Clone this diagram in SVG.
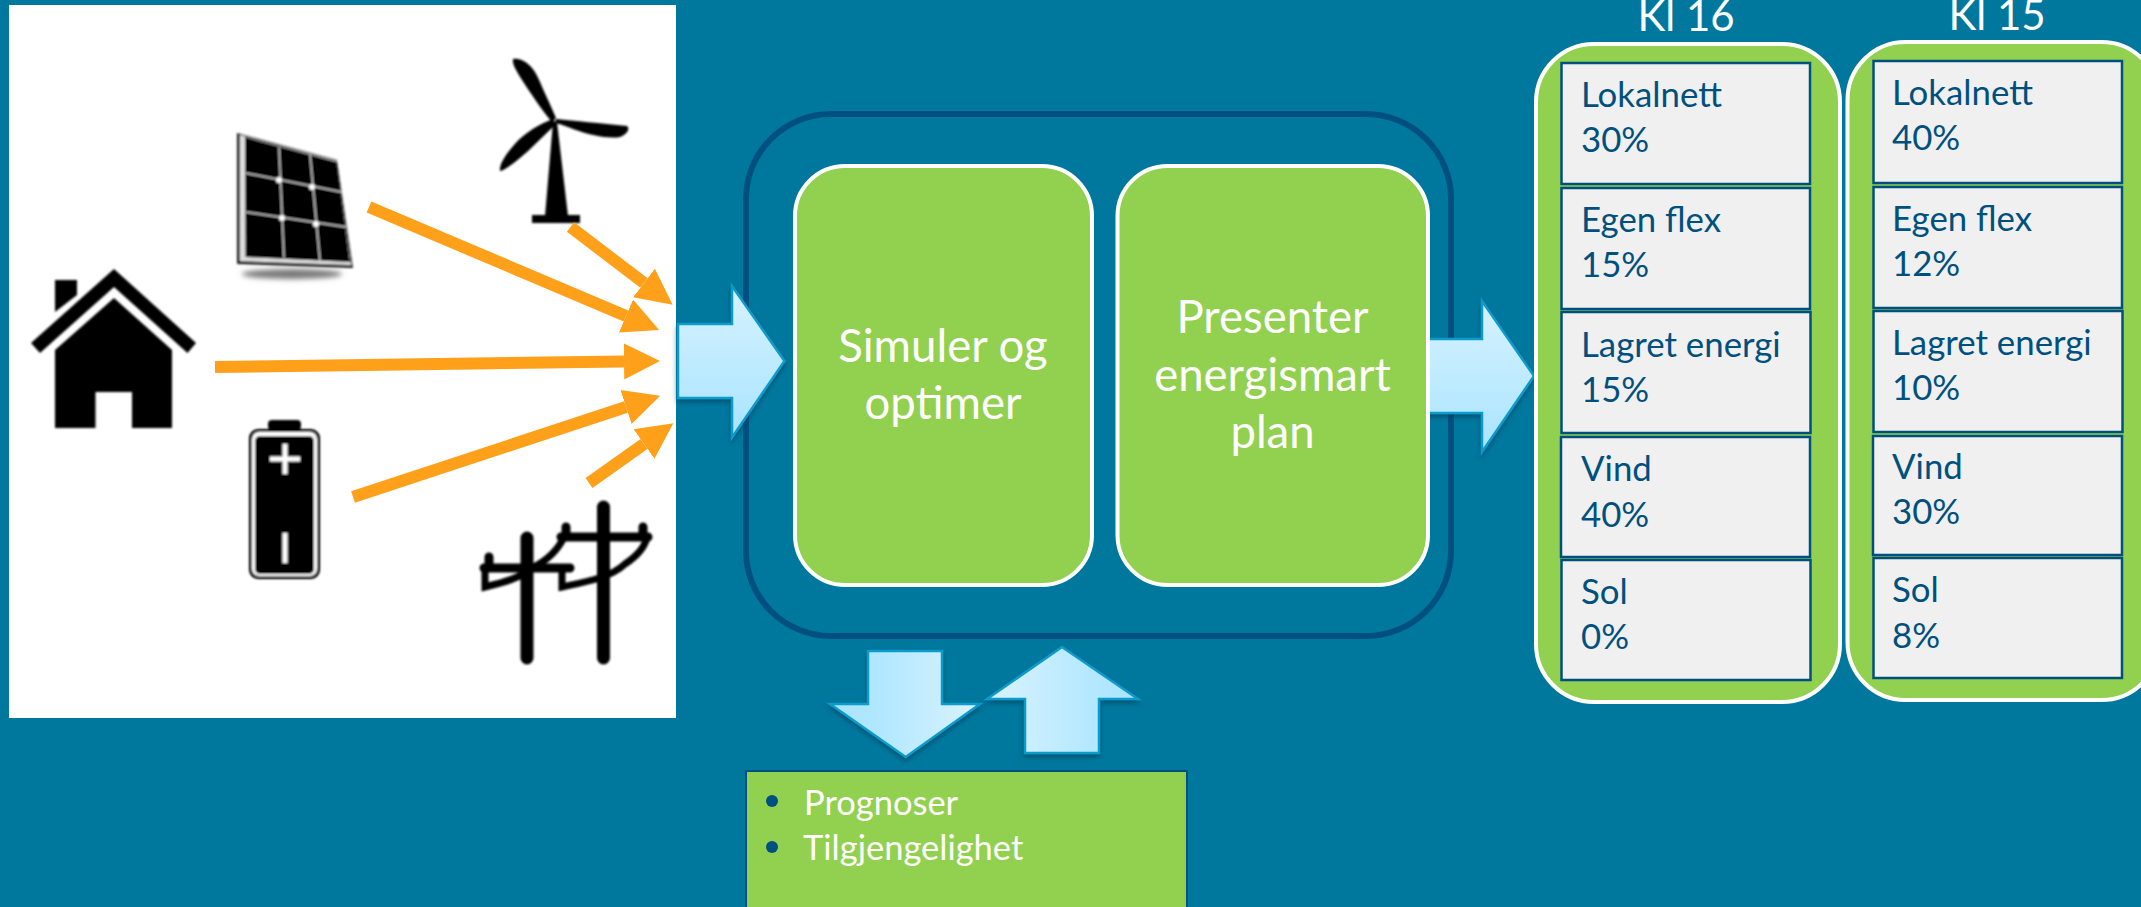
<svg xmlns="http://www.w3.org/2000/svg" width="2141" height="907" viewBox="0 0 2141 907">
<style>
text{font-family:Lato,"Liberation Sans",sans-serif}
.bx{fill:#92d050;stroke:#fff;stroke-width:4}
.wt{fill:#fff;text-anchor:middle;font-size:45.500px}
.kl{font-size:42px}
.card{fill:#f0f0f0;stroke:#00507f;stroke-width:2.500}
.ct{fill:#00507f;font-size:34.800px}
.li{fill:#fff;font-size:34.500px}
.or{stroke:#ffa01a;stroke-width:12;fill:none;marker-end:url(#oh)}
.ba{stroke:#0b9bcb;stroke-width:2.500;stroke-linejoin:miter;filter:url(#sh)}
.pl{stroke:#000;stroke-width:13;stroke-linecap:round;fill:none}
.pt{stroke:#000;stroke-width:9;stroke-linecap:round;fill:none}
.pc{stroke:#000;stroke-width:7;fill:none}
.sl{stroke:#ccc;stroke-width:1.500;fill:none}
</style>
<defs>
<marker id="oh" markerUnits="userSpaceOnUse" markerWidth="40" markerHeight="40" refX="0" refY="20" orient="auto" viewBox="0 0 40 40"><path d="M0,2 L36,20 L0,38 Z" fill="#ffa01a"/></marker>
<linearGradient id="gv" x1="0" y1="0" x2="0" y2="1"><stop offset="0" stop-color="#d6f2ff"/><stop offset="1" stop-color="#a9e4ff"/></linearGradient>
<linearGradient id="gd" x1="0" y1="0" x2="1" y2="0"><stop offset="0" stop-color="#a9e4ff"/><stop offset=".3" stop-color="#b0e7ff"/><stop offset="1" stop-color="#daf3ff"/></linearGradient>
<linearGradient id="gu" x1="0" y1="0" x2="1" y2="0"><stop offset="0" stop-color="#daf3ff"/><stop offset=".7" stop-color="#b4e8ff"/><stop offset="1" stop-color="#a9e4ff"/></linearGradient>
<filter id="sh" x="-10%" y="-10%" width="120%" height="125%"><feDropShadow dx="0" dy="3" stdDeviation="2.500" flood-color="#003c55" flood-opacity=".6"/></filter>
<filter id="bl" x="-5%" y="-5%" width="110%" height="110%"><feGaussianBlur stdDeviation=".8"/></filter>
<filter id="bs" x="-20%" y="-100%" width="140%" height="300%"><feGaussianBlur stdDeviation="2.500"/></filter>
</defs>
<rect width="2141" height="907" fill="#00789e"/>
<rect id="image-bg" x="9" y="5" width="667" height="713" fill="#fff"/>

<g id="house" filter="url(#bl)">
<path d="M55,280H77V295L55,312Z"/>
<path d="M114,269L196,343L187.500,353L114,287L40,353L31,343Z"/>
<path d="M114,298L172,350V428H132V392H95.500V428H55V350Z"/>
</g>

<g id="solar" filter="url(#bl)">
<ellipse cx="292" cy="274" rx="50" ry="5" fill="#777" filter="url(#bs)"/>
<path d="M237,133L337,160L353,268L237,264Z" fill="#222"/>
<path d="M240,135L337,161L351,265L240,261Z" fill="#ddd"/>
<path d="M245,137L337,162L350,262L245.500,257Z" fill="#050505"/>
<path d="M279,147L284,258M310,154L320,261M245.500,173L341.500,192M245.500,212L346,227" class="sl"/>
<g fill="#fff"><circle cx="279" cy="180" r="3"/><circle cx="312" cy="187" r="3"/><circle cx="282" cy="218" r="3"/><circle cx="316" cy="224" r="3"/></g>
</g>

<g id="turbine" filter="url(#bl)">
<path d="M513,59C520,58 532,62 540,82C546,96 552,108 556,118L552,122C540,108 530,92 522,80C516,70 512,64 513,59Z"/>
<path d="M556,119C575,121 600,123 627,126C630,128 628,134 620,137C608,139 590,135 576,130C568,127 560,124 555,123Z"/>
<path d="M553,119C540,124 525,132 514,145C505,155 499,165 500,171C506,170 515,162 527,152L556,124Z"/>
<path d="M553,122H557L568,216H545Z"/>
<rect x="532" y="215" width="48" height="8"/>
</g>

<g id="battery" filter="url(#bl)">
<rect x="268" y="420" width="33" height="10" rx="4"/>
<rect x="249" y="429" width="71" height="150" rx="9"/>
<rect x="252" y="432" width="65" height="144" rx="7" fill="#fff"/>
<rect x="255" y="436" width="59" height="138" rx="5"/>
<path d="M270,459H300M285,444V474M285,533V563" stroke="#fff" stroke-width="5" fill="none"/>
</g>

<g id="grid" filter="url(#bl)">
<path d="M527,538V658M603.500,507V658" class="pl"/>
<path d="M484,568H570M561,537H648M489,557V566M566,527V535M643,527V535" class="pt"/>
<path d="M485,568V587C505,582 520,578 532,568C548,560 558,550 564,537" class="pc"/>
<path d="M562,568V587C585,582 610,578 625,564C637,556 645,547 647,537" class="pc"/>
</g>

<g id="connectors">
<line class="or" x1="369" y1="207" x2="626" y2="316"/>
<line class="or" x1="570.500" y1="227" x2="644" y2="283"/>
<line class="or" x1="215" y1="367" x2="624" y2="361.500"/>
<line class="or" x1="353" y1="497" x2="626" y2="407"/>
<line class="or" x1="589" y1="483" x2="644" y2="444"/>
</g>

<g id="platform"><rect x="746" y="114" width="705" height="522" rx="85" fill="none" stroke="#00507f" stroke-width="6"/></g>

<g id="block-arrows">
<path id="arrow-in" class="ba" fill="url(#gv)" d="M678,324H732V286L784.500,361L732,437.500V398H678Z"/>
<path id="arrow-out" class="ba" fill="url(#gv)" d="M1425,339H1482V301L1534,376L1482,452V413H1425Z"/>
<path id="arrow-down" class="ba" fill="url(#gd)" d="M868,651H942V704H980L905.700,757L830,704H868Z"/>
<path id="arrow-up" class="ba" fill="url(#gu)" d="M1062,647L1138,699H1099V753H1025V699H987Z"/>
</g>

<g id="simuler">
<rect class="bx" x="795" y="166" width="297" height="419" rx="50"/>
<text class="wt" x="943" y="362">Simuler og</text>
<text class="wt" x="943" y="419">optimer</text>
</g>
<g id="presenter">
<rect class="bx" x="1117.500" y="166" width="310.500" height="419" rx="50"/>
<text class="wt" x="1272.500" y="333">Presenter</text>
<text class="wt" x="1272.500" y="391">energismart</text>
<text class="wt" x="1272.500" y="448">plan</text>
</g>

<g id="inputs">
<rect x="746" y="771" width="441" height="140" fill="#92d050" stroke="#00507f" stroke-width="2"/>
<circle cx="772" cy="801" r="6" fill="#00507f"/>
<circle cx="772" cy="847" r="6" fill="#00507f"/>
<text class="li" x="804" y="815">Prognoser</text>
<text class="li" x="803" y="860">Tilgjengelighet</text>
</g>

<g id="kl16">
<text class="wt kl" x="1686" y="31" style="font-size:42px">Kl 16</text>
<rect class="bx" x="1536" y="44" width="304" height="658" rx="58"/>
<rect class="card" x="1561.500" y="63" width="248.500" height="121"/>
<text class="ct" x="1581" y="107">Lokalnett</text><text class="ct" x="1581" y="152">30%</text>
<rect class="card" x="1561.500" y="188" width="248.500" height="121"/>
<text class="ct" x="1581" y="232">Egen flex</text><text class="ct" x="1581" y="277">15%</text>
<rect class="card" x="1561.500" y="312" width="249" height="121"/>
<text class="ct" x="1581" y="357">Lagret energi</text><text class="ct" x="1581" y="402">15%</text>
<rect class="card" x="1561" y="437" width="249" height="120"/>
<text class="ct" x="1581" y="481">Vind</text><text class="ct" x="1581" y="527">40%</text>
<rect class="card" x="1561.500" y="560" width="249" height="120"/>
<text class="ct" x="1581" y="604">Sol</text><text class="ct" x="1581" y="649">0%</text>
</g>

<g id="kl15">
<text class="wt kl" x="1997" y="30" style="font-size:42px">Kl 15</text>
<rect class="bx" x="1847.500" y="42" width="312" height="658" rx="58"/>
<rect class="card" x="1873.500" y="61" width="248.500" height="122"/>
<text class="ct" x="1892" y="105">Lokalnett</text><text class="ct" x="1892" y="150">40%</text>
<rect class="card" x="1873.500" y="187" width="248.500" height="121"/>
<text class="ct" x="1892" y="231">Egen flex</text><text class="ct" x="1892" y="276">12%</text>
<rect class="card" x="1873.500" y="311" width="249" height="121"/>
<text class="ct" x="1892" y="355">Lagret energi</text><text class="ct" x="1892" y="400">10%</text>
<rect class="card" x="1873" y="436" width="249" height="119"/>
<text class="ct" x="1892" y="479">Vind</text><text class="ct" x="1892" y="524">30%</text>
<rect class="card" x="1873.500" y="558" width="248.500" height="120"/>
<text class="ct" x="1892" y="602">Sol</text><text class="ct" x="1892" y="648">8%</text>
</g>
</svg>
